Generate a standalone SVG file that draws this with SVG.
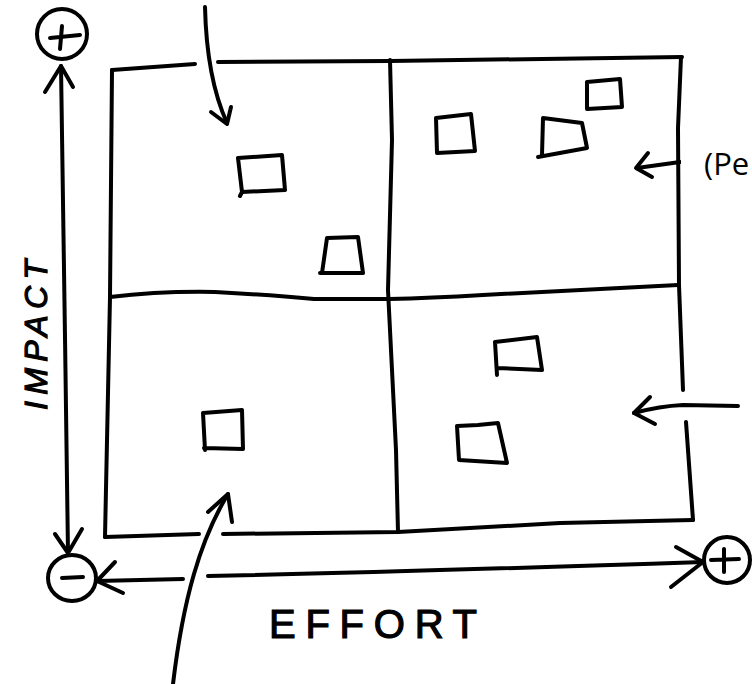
<svg xmlns="http://www.w3.org/2000/svg" width="752" height="684" viewBox="0 0 752 684">
<style>
.ink{fill:none;stroke:#000;stroke-width:4;stroke-linecap:round;stroke-linejoin:round}
.lbl{font-family:"Liberation Sans",Arial,sans-serif;fill:#000;stroke:#000;stroke-width:1.2}
.note{font-family:"Open Sans","Noto Sans",sans-serif;fill:#000;font-size:31px}
</style>
<rect width="752" height="684" fill="#fff"/>
<g id="grid" class="ink">
  <path d="M112,70 L195,64 M218,62 L390,61 L682,57"/>
  <path d="M681,57 L678,128 L679,285 L683,390 M686,422 L693,520"/>
  <path d="M693,520 L560,523 L398,532 L223,534 M199,534 L105,537"/>
  <path d="M105,537 L110,297 L112,70"/>
  <path d="M110,297 Q160,291 215,292 Q270,295 314,299 L389,299 Q430,298 483,295 L678,285"/>
  <path d="M390,60 L392,140 L388,290 L396,450 L398,532"/>
</g>
<g id="axis-impact" class="ink">
  <path d="M61,66 C63,200 66,400 68,553"/>
  <path d="M45,92 L61,66 L73,87"/>
  <path d="M55,534 L68,553 L82,529"/>
</g>
<g id="axis-effort" class="ink">
  <path d="M97,581 L183,579 M208,576 Q400,572 703,562"/>
  <path d="M115,562 L97,581 L123,593"/>
  <path d="M676,547 L703,562 L671,587"/>
</g>
<g id="plus-top" class="ink">
  <circle cx="62" cy="34" r="25"/>
  <path d="M50,38 L80,35 M62,26 L60,49"/>
</g>
<g id="minus-left" class="ink">
  <ellipse cx="72" cy="578" rx="24" ry="23"/>
  <path d="M62,578 L83,577"/>
</g>
<g id="plus-right" class="ink">
  <circle cx="727" cy="560" r="23"/>
  <path d="M711,560 L739,559 M724,549 L724,572"/>
</g>
<g id="item-1" class="ink"><path d="M238,158 L282,155 L285,190 L242,192 Z M242,192 L240,196"/></g>
<g id="item-2" class="ink"><path d="M327,238 L358,237 L363,273 L322,273 Z M322,273 L320,273"/></g>
<g id="item-3" class="ink"><path d="M436,118 L471,114 L475,151 L437,153 Z"/></g>
<g id="item-4" class="ink"><path d="M543,118 L582,123 L587,148 L538,157 M543,118 L542,155"/></g>
<g id="item-5" class="ink"><path d="M587,82 L620,79 L622,107 L587,109 Z"/></g>
<g id="item-6" class="ink"><path d="M495,342 L537,337 L542,370 L497,368 M495,342 L497,375"/></g>
<g id="item-7" class="ink"><path d="M457,426 L478,425 L498,423 L507,463 L459,460 Z"/></g>
<g id="item-8" class="ink"><path d="M203,413 L242,410 L243,449 L204,448 M203,413 L205,450"/></g>
<g id="connectors" class="ink">
  <path d="M205,7 C206,50 212,90 227,123"/>
  <path d="M211,112 L227,124 L231,107"/>
  <path d="M173,684 C183,600 200,540 228,494"/>
  <path d="M208,512 L228,494 L232,522"/>
  <path d="M680,162 L637,168"/>
  <path d="M648,153 L636,168 L652,177"/>
  <path d="M738,406 L683,405 Q660,406 634,413"/>
  <path d="M650,397 L634,413 L655,424"/>
</g>
<g id="note-box">
  <rect x="681" y="128" width="71" height="112" fill="#fff"/>
  <text class="note" x="704" y="175">(Pe</text>
</g>
<g id="label-impact">
  <text class="lbl" font-size="32" font-style="italic" text-anchor="middle" textLength="150" lengthAdjust="spacing" transform="translate(47,335) rotate(-90)">IMPACT</text>
</g>
<g id="label-effort">
  <text class="lbl" font-size="40" x="269" y="638" textLength="208" lengthAdjust="spacing">EFFORT</text>
</g>
</svg>
